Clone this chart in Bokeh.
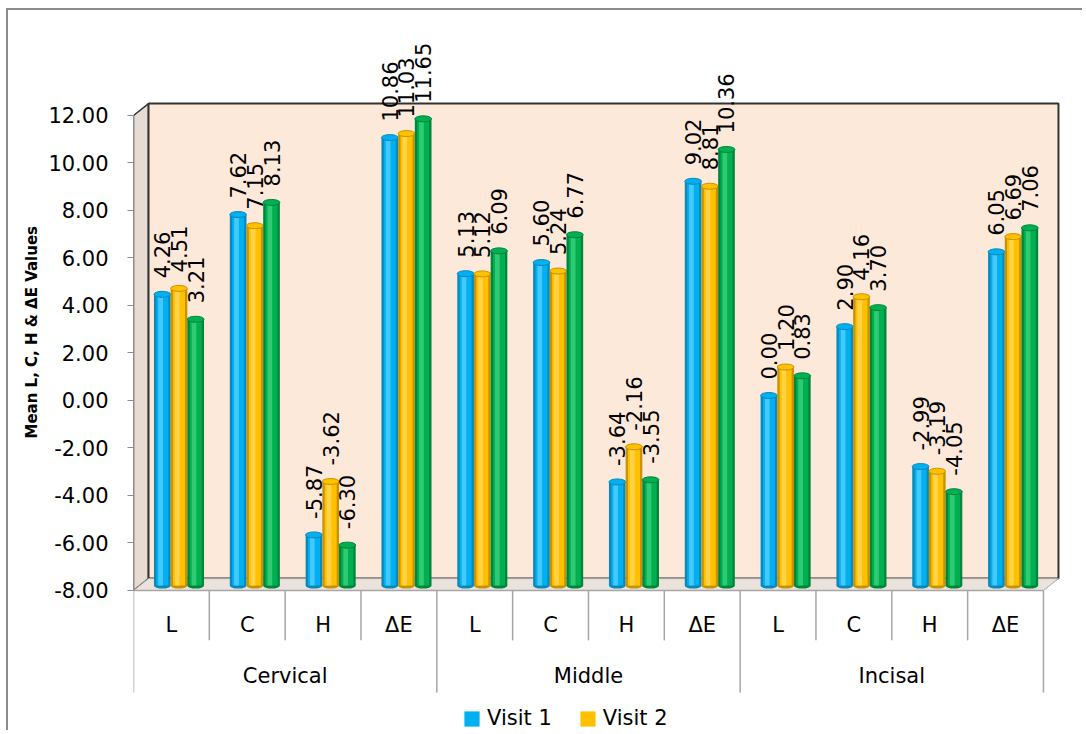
import numpy as np
from bokeh.plotting import figure
from bokeh.models import (Range1d, FixedTicker, PrintfTickFormatter, ColumnDataSource,
                          Legend, LegendItem, Title)
from bokeh.core.properties import value
from bokeh.embed import file_html
from bokeh.resources import INLINE

# ---------------- data ----------------
groups = ["Cervical", "Middle", "Incisal"]
params = ["L", "C", "H", "ΔE"]
series_names = ["Visit 1", "Visit 2", "Visit 3"]
visit1 = [4.26, 7.62, -5.87, 10.86, 5.13, 5.60, -3.64, 9.02, 0.00, 2.90, -2.99, 6.05]
visit2 = [4.51, 7.15, -3.62, 11.03, 5.12, 5.24, -2.16, 8.81, 1.20, 4.16, -3.19, 6.69]
visit3 = [3.21, 8.13, -6.30, 11.65, 6.09, 6.77, -3.55, 10.36, 0.83, 3.70, -4.05, 7.06]
y_ticks = [-8, -6, -4, -2, 0, 2, 4, 6, 8, 10, 12]
y_title = "Mean L, C, H & ΔE Values"

# ---------------- style ----------------
FONT = "DejaVu Sans"
main_c = ["#00b0f0", "#ffc000", "#00b050"]
dark_c = ["#0a88bb", "#c99300", "#00853d"]
light_c = ["#62d3ff", "#ffda66", "#45d585"]
wall_fill = "#fde9d9"
side_fill = "#e6dcd3"
floor_fill = "#ebe3db"
edge_dark = "#333333"
grey = "#8c8c8c"

Y_MIN, Y_MAX = y_ticks[0], y_ticks[-1]
N = len(groups) * len(params)
DX, DY = 0.198, 0.5            # depth of walls (category units, value units)
BAR_DX, BAR_DY = 0.10, 0.21    # bars stand mid-depth
BAR_W = 0.22
offsets = [-BAR_W, 0.0, BAR_W]
SUB_SEP, GRP_SEP = -10.1, -12.3
SUB_LAB, GRP_LAB = -9.47, -11.58

p = figure(width=1076, height=722, output_backend="svg", toolbar_location=None,
           title=None, x_axis_location=None,
           x_range=Range1d(0, 12.238), y_range=Range1d(-13.979, 16.421),
           min_border_left=125, min_border_right=23, min_border_top=0,
           min_border_bottom=0)
p.styles = {"margin-left": "6px", "margin-top": "8px",
            "border-left": "2px solid #8c8c8c", "border-top": "2px solid #8c8c8c"}
p.outline_line_color = None
p.xgrid.visible = False
p.ygrid.visible = False
p.background_fill_color = "white"
p.border_fill_color = "white"

# walls & floor
p.patch([0, DX, DX, 0], [Y_MIN, Y_MIN + DY, Y_MAX + DY, Y_MAX],
        fill_color=side_fill, line_color=edge_dark, line_width=1.5)
p.quad(left=[DX], right=[N + DX], bottom=[Y_MIN + DY], top=[Y_MAX + DY],
       fill_color=wall_fill, line_color=edge_dark, line_width=2)
p.patch([0, N, N + DX, DX], [Y_MIN, Y_MIN, Y_MIN + DY, Y_MIN + DY],
        fill_color=floor_fill, line_color="#a6a6a6", line_width=1)

# bars
idx = np.arange(N)
legend_items = []
for s, vals in enumerate([visit1, visit2, visit3]):
    xs = idx + 0.5 + BAR_DX + offsets[s]
    v = np.array(vals)
    src = ColumnDataSource(dict(x=xs, top=v + BAR_DY, bottom=np.full(N, Y_MIN + BAR_DY),
                                xh=xs - BAR_W * 0.1,
                                label=["%.2f" % t for t in vals]))
    p.ellipse(x="x", y="bottom", width=BAR_W, height=6, height_units="screen",
              source=src, fill_color=dark_c[s], line_color=None)
    p.vbar(x="x", top="top", bottom="bottom", width=BAR_W, source=src,
           fill_color=dark_c[s], line_color=None)
    p.vbar(x="x", top="top", bottom="bottom", width=BAR_W * 0.72, source=src,
           fill_color=main_c[s], line_color=None)
    p.vbar(x="xh", top="top", bottom="bottom", width=BAR_W * 0.28, source=src,
           fill_color=light_c[s], fill_alpha=0.7, line_color=None)
    p.ellipse(x="x", y="top", width=BAR_W, height=6, height_units="screen",
              source=src, fill_color=main_c[s], line_color=dark_c[s], line_width=1)
    p.text(x="x", y="top", text="label", source=src, angle=np.pi / 2,
           y_offset=-16, text_align="left", text_baseline="middle",
           text_font=value(FONT), text_font_size="21px", text_color="black")
    if s < 2:
        # legend swatch in the series' main colour (zero-size, invisible in plot)
        sw = p.quad(left=[xs[0]], right=[xs[0]], top=[Y_MIN], bottom=[Y_MIN],
                    fill_color=main_c[s], line_color=None)
        legend_items.append(LegendItem(label=series_names[s], renderers=[sw]))

# category axis (two levels) with separators
bounds = np.arange(N + 1)
is_grp = (bounds % len(params)) == 0
p.segment(x0=bounds, y0=np.full(N + 1, Y_MIN), x1=bounds,
          y1=np.where(is_grp, GRP_SEP, SUB_SEP), line_color="#a6a6a6", line_width=1.5)
p.segment(x0=[0], y0=[Y_MIN], x1=[N], y1=[Y_MIN], line_color="#a6a6a6", line_width=1.5)
p.text(x=idx + 0.5, y=np.full(N, SUB_LAB), text=params * len(groups),
       text_align="center", text_baseline="middle", text_font=value(FONT),
       text_font_size="21px", text_color="black")
gx = np.arange(len(groups)) * len(params) + len(params) / 2
p.text(x=gx, y=np.full(len(groups), GRP_LAB), text=groups,
       text_align="center", text_baseline="middle", text_font=value(FONT),
       text_font_size="21px", text_color="black")

# y axis
ax = p.yaxis[0]
ax.ticker = FixedTicker(ticks=y_ticks)
ax.formatter = PrintfTickFormatter(format="%.2f")
ax.bounds = (Y_MIN, Y_MAX)
ax.axis_line_color = grey
ax.major_tick_line_color = grey
ax.major_tick_out = 6
ax.major_tick_in = 0
ax.minor_tick_line_color = None
ax.major_label_standoff = 19
ax.major_label_text_font = FONT
ax.major_label_text_font_size = "21px"
ax.major_label_text_color = "black"

p.add_layout(Title(text=y_title, align="left", offset=294, text_font=FONT,
                   text_font_size="15px", text_font_style="bold",
                   text_color="black"), "left")

legend = Legend(items=legend_items, orientation="horizontal", location=(329, 2),
                glyph_width=19, glyph_height=19, label_standoff=6, spacing=26,
                padding=0, margin=0, border_line_color=None,
                background_fill_alpha=0, label_text_font=FONT,
                label_text_font_size="21px", label_text_color="black")
p.add_layout(legend)

open("out.html", "w").write(file_html(p, INLINE))
